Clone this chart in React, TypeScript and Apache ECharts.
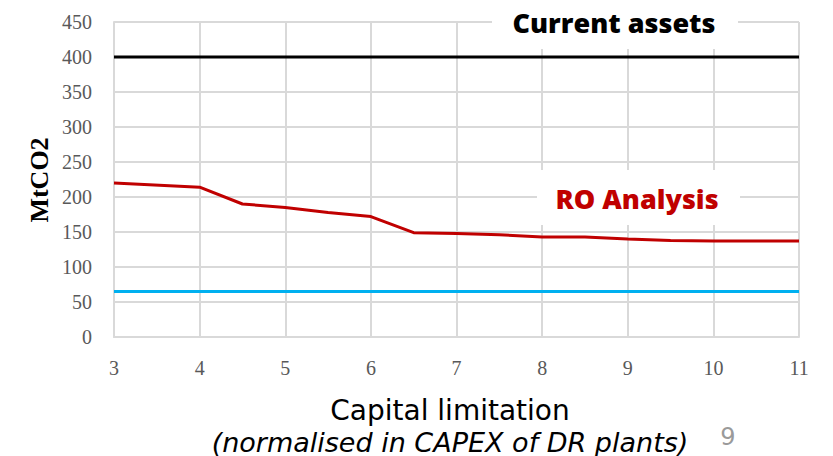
import React, { useEffect, useRef } from "react";
import * as echarts from "echarts";

// Capital limitation (normalised in CAPEX of DR plants)
const capitalLimit = [3, 4, 4.5, 5, 5.5, 6, 6.5, 7, 7.5, 8, 8.5, 9, 9.5, 10, 10.5, 11];
// Emissions from the RO analysis, MtCO2
const roAnalysis = [220, 214, 190, 185, 178, 172, 149, 148, 146, 143, 143, 140, 138, 137, 137, 137];
// Reference levels, MtCO2
const currentAssets = 400;
const targetLevel = 65;
const xRange = [3, 11];

const serifFont = '"Liberation Serif", "DejaVu Serif", serif';
const sansFont = '"Open Sans", "Noto Sans", sans-serif';
const wideSans = '"DejaVu Sans", "Noto Sans", sans-serif';

export default function App() {
  const ref = useRef<HTMLDivElement>(null);

  useEffect(() => {
    if (!ref.current) return;
    const chart = echarts.init(ref.current, null, { renderer: "svg" });
    const flat = (v: number) => xRange.map((x) => [x, v]);
    chart.setOption({
      animation: false,
      backgroundColor: "#ffffff",
      grid: { left: 114, right: 34, top: 22, bottom: 119 },
      xAxis: {
        type: "value",
        min: 3,
        max: 11,
        interval: 1,
        axisLine: { show: true, lineStyle: { color: "#d9d9d9", width: 2 } },
        axisTick: { show: false },
        axisLabel: { color: "#595959", fontFamily: serifFont, fontSize: 20, margin: 21 },
        splitLine: { show: true, lineStyle: { color: "#d9d9d9", width: 2 } },
      },
      yAxis: {
        type: "value",
        min: 0,
        max: 450,
        interval: 50,
        axisLine: { show: true, lineStyle: { color: "#d9d9d9", width: 2 } },
        axisTick: { show: false },
        axisLabel: { color: "#595959", fontFamily: serifFont, fontSize: 20, margin: 22 },
        splitLine: { show: true, lineStyle: { color: "#d9d9d9", width: 2 } },
      },
      series: [
        {
          name: "Current assets",
          type: "line",
          data: flat(currentAssets),
          symbol: "none",
          lineStyle: { color: "#000000", width: 3 },
          z: 3,
        },
        {
          name: "RO Analysis",
          type: "line",
          data: capitalLimit.map((x, i) => [x, roAnalysis[i]]),
          symbol: "none",
          lineStyle: { color: "#c00000", width: 3 },
          z: 3,
        },
        {
          name: "Target",
          type: "line",
          data: flat(targetLevel),
          symbol: "none",
          lineStyle: { color: "#00b0f0", width: 3 },
          z: 3,
        },
      ],
      graphic: [
        {
          type: "text",
          x: 39,
          y: 180,
          rotation: Math.PI / 2,
          style: {
            text: "MtCO2",
            fill: "#000000",
            font: `bold 26px ${serifFont}`,
            align: "center",
            verticalAlign: "middle",
          },
        },
        { type: "rect", shape: { x: 492, y: 0, width: 246, height: 49 }, style: { fill: "#ffffff" }, z: 10 },
        {
          type: "text",
          x: 614,
          y: 22,
          style: {
            text: "Current assets",
            fill: "#000000",
            font: `800 27px ${sansFont}`,
            align: "center",
            verticalAlign: "middle",
          },
          z: 11,
        },
        { type: "rect", shape: { x: 537, y: 170, width: 203, height: 55 }, style: { fill: "#ffffff" }, z: 10 },
        {
          type: "text",
          x: 637,
          y: 198,
          style: {
            text: "RO Analysis",
            fill: "#c00000",
            font: `800 27px ${sansFont}`,
            align: "center",
            verticalAlign: "middle",
          },
          z: 11,
        },
        {
          type: "text",
          x: 450,
          y: 410,
          style: {
            text: "Capital limitation",
            fill: "#000000",
            font: `400 28px ${wideSans}`,
            align: "center",
            verticalAlign: "middle",
          },
        },
        {
          type: "text",
          x: 450,
          y: 442,
          style: {
            text: "(normalised in CAPEX of DR plants)",
            fill: "#000000",
            font: `oblique 400 27px ${wideSans}`,
            align: "center",
            verticalAlign: "middle",
          },
        },
        {
          type: "text",
          x: 728,
          y: 437,
          style: {
            text: "9",
            fill: "#9a9a9a",
            font: `400 24px ${wideSans}`,
            align: "center",
            verticalAlign: "middle",
          },
        },
      ],
    });
    return () => chart.dispose();
  }, []);

  return <div ref={ref} style={{ width: 833, height: 456, position: "absolute", left: 0, top: 0 }} />;
}
